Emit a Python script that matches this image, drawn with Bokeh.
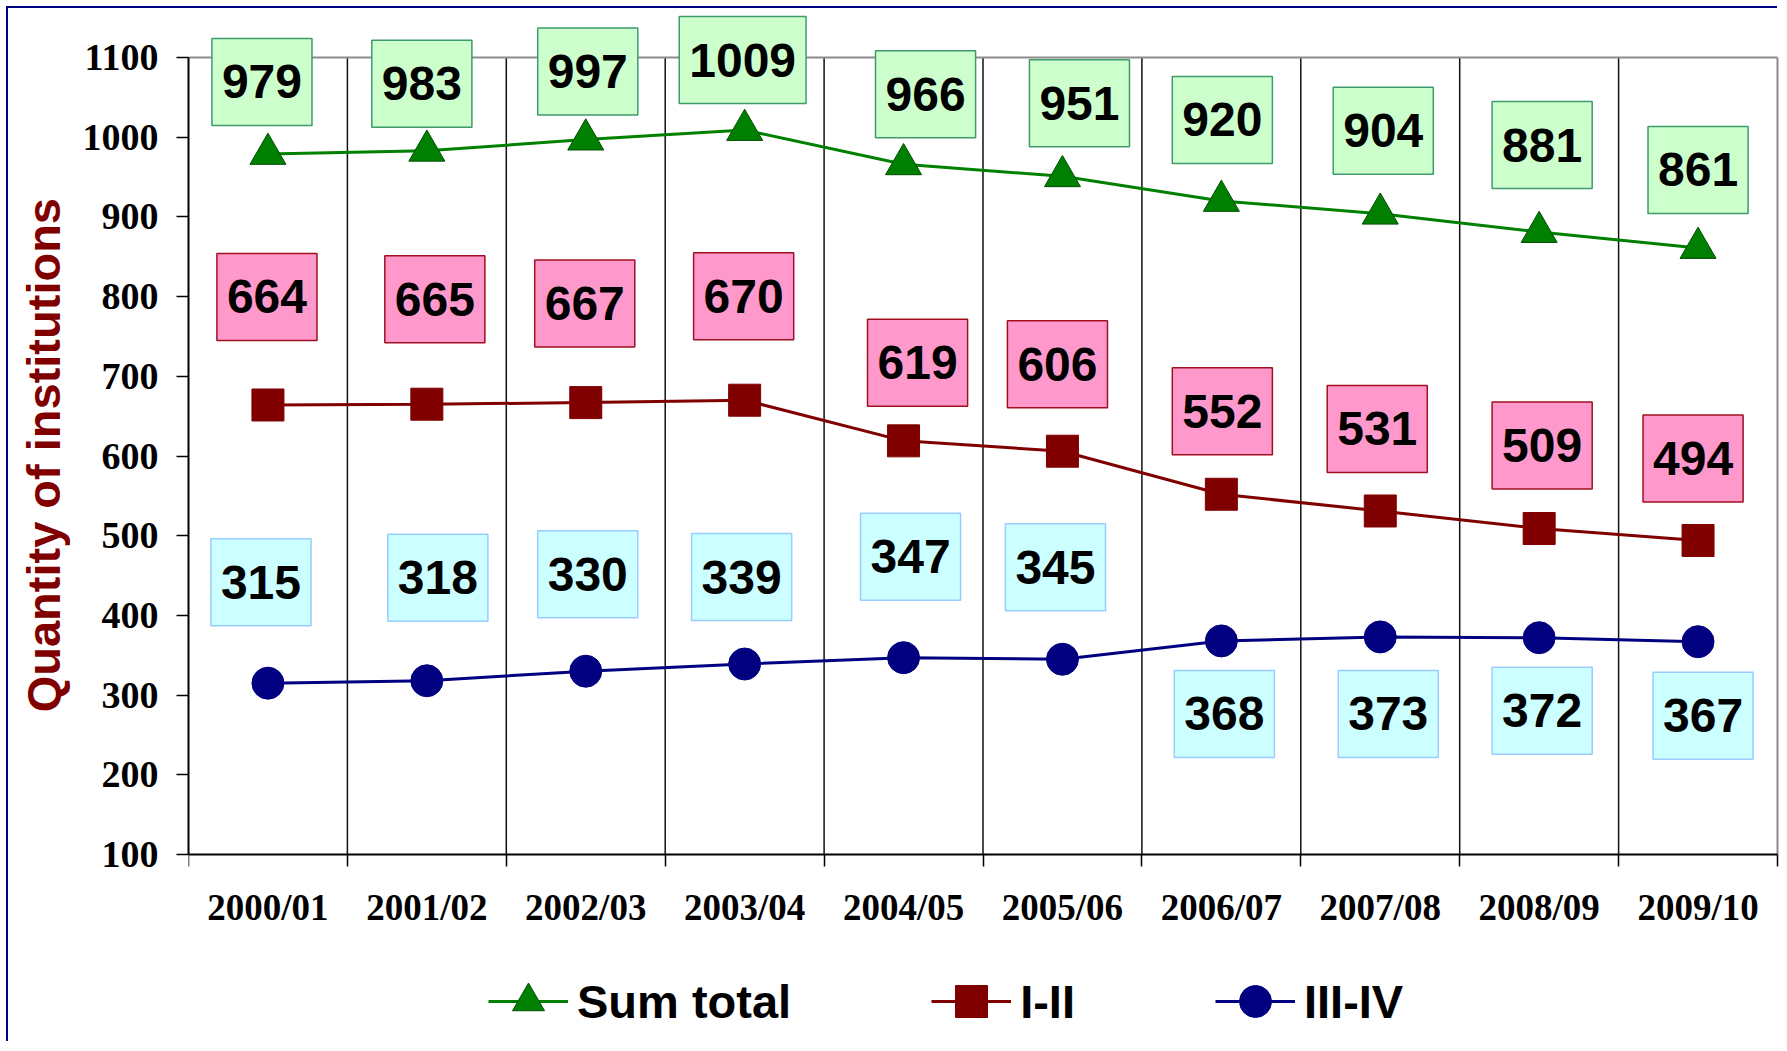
from bokeh.plotting import figure
from bokeh.models import (Range1d, FixedTicker, Label, Legend, LegendItem)
from bokeh.embed import file_html
from bokeh.resources import INLINE

# ---- data ----
years = ["2000/01", "2001/02", "2002/03", "2003/04", "2004/05",
         "2005/06", "2006/07", "2007/08", "2008/09", "2009/10"]
sum_total = [979, 983, 997, 1009, 966, 951, 920, 904, 881, 861]
lvl_1_2 = [664, 665, 667, 670, 619, 606, 552, 531, 509, 494]
lvl_3_4 = [315, 318, 330, 339, 347, 345, 368, 373, 372, 367]
y_ticks = [100, 200, 300, 400, 500, 600, 700, 800, 900, 1000, 1100]

# ---- layout of the value boxes (screen px offsets from each point) ----
sum_dx = [-6, -5, 2, -2, 22, 17, 1, 3, 3, 0]
sum_dy = [72, 67, 68, 70, 70, 73, 81, 83, 87, 78]
a_dx = [-1, 8, -1, -1, 14, -5, 1, -3, 3, -5]
a_dy = [108, 105, 99, 104, 78, 87, 83, 82, 83, 82]
b_dx = [-7, 11, 2, -3, 7, -7, 3, 8, 3, 5]
b_dy = [101, 103, 97, 87, 101, 92, -73, -77, -73, -74]

n = len(years)
xc = [i + 0.5 for i in range(n)]
bounds_x = list(range(0, n + 1))
y_lo, y_hi = y_ticks[0], y_ticks[-1]

# frame: plot area 1589 x 797 px for 10 categories x 1000 units,
# extended to hold the boxes above and the legend below
PX_X = 1589 / n
PX_Y = 797 / (y_hi - y_lo)
FW, FH = 1591, 1033
TOP_EXTRA, BOTTOM_EXTRA = 47, 189
x_range = Range1d(0, FW / PX_X)
y_range = Range1d(y_lo - BOTTOM_EXTRA / PX_Y, y_hi + TOP_EXTRA / PX_Y)

p = figure(frame_width=FW, frame_height=FH, output_backend="svg",
           toolbar_location=None, x_range=x_range, y_range=y_range,
           min_border_left=180, min_border_right=0, min_border_top=2,
           min_border_bottom=0)
p.styles = {"position": "relative", "left": "8px", "top": "8px",
            "box-shadow": "-2px -2px 0 0 #000080"}
p.background_fill_color = "white"
p.border_fill_color = "white"
p.outline_line_color = None

# grids
p.xgrid.visible = False
p.ygrid.visible = False

# category separators and plot-area border
p.segment(x0=bounds_x[1:-1], y0=[y_lo] * (n - 1), x1=bounds_x[1:-1], y1=[y_hi] * (n - 1),
          line_color="#111111", line_width=1.5)
p.segment(x0=[0, n], y0=[y_hi, y_lo], x1=[n, n], y1=[y_hi, y_hi],
          line_color="#8c8c8c", line_width=2)

# x axis
xa = p.xaxis[0]
xa.fixed_location = y_lo
xa.bounds = (0, n)
xa.ticker = FixedTicker(ticks=xc, minor_ticks=bounds_x)
xa.major_label_overrides = {x: y for x, y in zip(xc, years)}
xa.major_tick_out = 0
xa.major_tick_in = 0
xa.minor_tick_out = 12
xa.minor_tick_in = 0
xa.minor_tick_line_color = "black"
xa.minor_tick_line_width = 1.5
xa.axis_line_color = "black"
xa.axis_line_width = 2
xa.major_label_text_font = "Liberation Serif"
xa.major_label_text_font_style = "bold"
xa.major_label_text_font_size = "37px"
xa.major_label_text_color = "black"
xa.major_label_standoff = 20

# y axis
ya = p.yaxis[0]
ya.bounds = (y_lo, y_hi)
ya.ticker = FixedTicker(ticks=y_ticks)
ya.minor_tick_line_color = None
ya.major_tick_out = 12
ya.major_tick_in = 0
ya.major_tick_line_color = "black"
ya.major_tick_line_width = 1.5
ya.axis_line_color = "black"
ya.axis_line_width = 2
ya.major_label_text_font = "Liberation Serif"
ya.major_label_text_font_style = "bold"
ya.major_label_text_font_size = "38px"
ya.major_label_text_color = "black"
ya.major_label_standoff = 18
# leading no-break spaces lift the centred title to the middle of the 100-1100 span
ya.axis_label = "\u00a0" * 11 + "Quantity of institutions"
ya.axis_label_text_font = "Liberation Sans"
ya.axis_label_text_font_style = "bold"
ya.axis_label_text_font_size = "47px"
ya.axis_label_text_color = "#800000"
ya.axis_label_standoff = 10

# series
l1 = p.line(xc, sum_total, line_color="#008000", line_width=3)
m1 = p.scatter(xc, sum_total, marker="triangle", size=36, fill_color="#008000",
               line_color="#004d00", line_width=1)
l2 = p.line(xc, lvl_1_2, line_color="#800000", line_width=3)
m2 = p.scatter(xc, lvl_1_2, marker="square", size=32, fill_color="#800000",
               line_color="#800000", line_width=1)
l3 = p.line(xc, lvl_3_4, line_color="#000080", line_width=3)
m3 = p.scatter(xc, lvl_3_4, marker="circle", size=32, fill_color="#000080",
               line_color="#000080", line_width=1)

# value boxes
def add_labels(vals, dxs, dys, fill, border):
    for x, v, dx, dy in zip(xc, vals, dxs, dys):
        lab = Label(x=x, y=v, x_offset=dx, y_offset=dy, text=str(v),
                    text_font="Liberation Sans", text_font_style="bold",
                    text_font_size="48px", text_color="black",
                    text_align="center", text_baseline="middle",
                    background_fill_color=fill, border_line_color=border,
                    border_line_width=1.5,
                    padding=dict(left=10, right=10, top=27, bottom=27))
        p.add_layout(lab)

add_labels(sum_total, sum_dx, sum_dy, "#ccffcc", "#3f9a6e")
add_labels(lvl_1_2, a_dx, a_dy, "#ff99cc", "#a01020")
add_labels(lvl_3_4, b_dx, b_dy, "#ccffff", "#99ccff")

legend = Legend(items=[LegendItem(label="Sum total", renderers=[l1, m1]),
                       LegendItem(label="I-II", renderers=[l2, m2]),
                       LegendItem(label="III-IV", renderers=[l3, m3])],
                orientation="horizontal", location=(300, 2),
                label_text_font="Liberation Sans", label_text_font_style="bold",
                label_text_font_size="47px", label_text_color="black",
                glyph_width=80, glyph_height=80, label_standoff=9,
                spacing=140, padding=0, margin=0,
                border_line_alpha=0, background_fill_alpha=0)
p.add_layout(legend, "center")

open("out.html", "w").write(file_html(p, INLINE))
